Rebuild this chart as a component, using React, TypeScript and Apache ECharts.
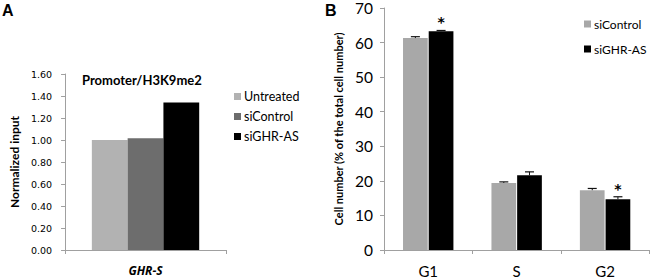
import React, { useEffect, useRef } from "react";
import * as echarts from "echarts";

// Panel A data
const catsA = ["GHR-S"];
const untreatedA = [1.0];
const siControlA = [1.015];
const siGhrA = [1.34];

// Panel B data
const catsB = ["G1", "S", "G2"];
const siControlB = [61.3, 19.4, 17.3];
const siControlErrB = [0.4, 0.3, 0.5];
const siGhrB = [63.3, 21.6, 14.7];
const siGhrErrB = [0.2, 1.0, 0.7];
const siGhrStarB = [1, 0, 1];
const siControlStarB = [0, 0, 0];

const axisGray = "#a0a0a0";
const calibri = "Lato";

function buildA(): any {
  return {
    animation: false,
    graphic: [
      {
        type: "text",
        left: 2,
        top: 2,
        style: { text: "A", font: "bold 16px 'Liberation Sans'", fill: "#000" },
      },
    ],
    title: {
      text: "Promoter/H3K9me2",
      left: 82,
      top: 73,
      padding: 0,
      textStyle: { fontFamily: calibri, fontWeight: "bold", fontSize: 13, color: "#000" },
    },
    legend: {
      orient: "vertical",
      left: 234,
      top: 90,
      itemWidth: 7,
      itemHeight: 7,
      itemGap: 7,
      icon: "rect",
      padding: 0,
      textStyle: { fontFamily: calibri, fontSize: 12.5, color: "#000", padding: [0, 0, 0, -2] },
      data: ["Untreated", "siControl", "siGHR-AS"],
    },
    grid: { left: 61, top: 74, width: 165, height: 176, containLabel: false },
    xAxis: {
      type: "category",
      data: catsA,
      axisLine: { lineStyle: { color: axisGray, width: 1 } },
      axisTick: { show: true, length: 4, lineStyle: { color: axisGray } },
      axisLabel: {
        margin: 14,
        color: "#000",
        fontFamily: "Open Sans",
        fontStyle: "italic",
        fontWeight: "bold",
        fontSize: 12,
      },
    },
    yAxis: {
      type: "value",
      min: 0,
      max: 1.6,
      interval: 0.2,
      name: "Normalized input",
      nameLocation: "middle",
      nameGap: 45,
      nameTextStyle: { fontFamily: calibri, fontWeight: "bold", fontSize: 12, color: "#000" },
      axisLine: { show: true, lineStyle: { color: axisGray, width: 1 } },
      axisTick: { show: true, length: 4, lineStyle: { color: axisGray } },
      splitLine: { show: false },
      axisLabel: {
        margin: 13,
        color: "#000",
        fontFamily: "DejaVu Sans",
        fontSize: 9.5,
        formatter: (v: number) => v.toFixed(2),
      },
    },
    series: [
      { name: "Untreated", type: "bar", data: untreatedA, barGap: "0%", barCategoryGap: "33.3%", itemStyle: { color: "#b2b2b2" } },
      { name: "siControl", type: "bar", data: siControlA, barGap: "0%", barCategoryGap: "33.3%", itemStyle: { color: "#6d6d6d" } },
      { name: "siGHR-AS", type: "bar", data: siGhrA, barGap: "0%", barCategoryGap: "33.3%", itemStyle: { color: "#000000" } },
    ],
  };
}

const CAT_GAP = 0.43;
const BAR_GAP = 0.04;

function errSeries(name: string, values: number[], errs: number[], stars: number[], dir: number) {
  return {
    type: "custom",
    name: name + "-err",
    z: 5,
    silent: true,
    encode: { x: 0, y: 1 },
    data: values.map((v, i) => [i, v, errs[i], stars[i]]),
    renderItem: (params: any, api: any) => {
      const cat = api.value(0);
      const val = api.value(1);
      const err = api.value(2);
      const star = api.value(3);
      const base = api.coord([cat, val]);
      const band = api.size([1, 0])[0];
      const bw = (band * (1 - CAT_GAP)) / (2 + BAR_GAP);
      const off = ((bw + bw * BAR_GAP) / 2) * dir;
      const x = base[0] + off;
      const top = api.coord([cat, val + err])[1];
      const children: any[] = [
        { type: "line", shape: { x1: x, y1: base[1], x2: x, y2: top }, style: { stroke: "#111", lineWidth: 1 } },
        { type: "line", shape: { x1: x - 4.5, y1: top, x2: x + 4.5, y2: top }, style: { stroke: "#111", lineWidth: 1.2 } },
      ];
      if (star) {
        children.push({
          type: "text",
          x: x,
          y: top - 1,
          style: { text: "*", font: "bold 14px 'DejaVu Sans'", fill: "#000", align: "center", verticalAlign: "bottom" },
        });
      }
      return { type: "group", children };
    },
  };
}

function buildB(): any {
  return {
    animation: false,
    graphic: [
      {
        type: "text",
        left: 0,
        top: 2,
        style: { text: "B", font: "bold 16px 'Liberation Sans'", fill: "#000" },
      },
    ],
    legend: {
      orient: "vertical",
      left: 259,
      top: 18,
      itemWidth: 7,
      itemHeight: 7,
      itemGap: 13,
      icon: "rect",
      padding: 0,
      textStyle: { fontFamily: calibri, fontSize: 12, color: "#000", padding: [0, 0, 0, -2] },
      data: ["siControl", "siGHR-AS"],
    },
    grid: { left: 43.3, top: 6.2, width: 281, height: 247.1, containLabel: false },
    xAxis: {
      type: "category",
      data: catsB,
      axisLine: { lineStyle: { color: axisGray, width: 1 } },
      axisTick: { show: true, length: 4, lineStyle: { color: axisGray } },
      axisLabel: { margin: 13, color: "#000", fontFamily: calibri, fontSize: 15 },
    },
    yAxis: {
      type: "value",
      min: 0,
      max: 70,
      interval: 10,
      name: "Cell number (% of the total cell number)",
      nameLocation: "middle",
      nameGap: 40,
      nameTextStyle: { fontFamily: calibri, fontWeight: "bold", fontSize: 11, color: "#000" },
      axisLine: { show: true, lineStyle: { color: axisGray, width: 1 } },
      axisTick: { show: true, length: 4, lineStyle: { color: axisGray } },
      splitLine: { show: false },
      axisLabel: { margin: 11, color: "#000", fontFamily: calibri, fontSize: 15.5 },
    },
    series: [
      { name: "siControl", type: "bar", data: siControlB, barGap: "4%", barCategoryGap: "43%", itemStyle: { color: "#a8a8a8" } },
      { name: "siGHR-AS", type: "bar", data: siGhrB, barGap: "4%", barCategoryGap: "43%", itemStyle: { color: "#000000" } },
      errSeries("siControl", siControlB, siControlErrB, siControlStarB, -1),
      errSeries("siGHR-AS", siGhrB, siGhrErrB, siGhrStarB, 1),
    ],
  };
}

function Chart({ build, left }: { build: () => any; left: number }) {
  const ref = useRef<HTMLDivElement>(null);
  useEffect(() => {
    if (!ref.current) return;
    const chart = echarts.init(ref.current, undefined, { renderer: "svg" });
    chart.setOption(build());
    return () => chart.dispose();
  }, [build]);
  return (
    <div
      ref={ref}
      style={{ position: "absolute", left, top: 0, width: 325, height: 278 }}
    />
  );
}

export default function App() {
  return (
    <div style={{ position: "fixed", left: 0, top: 0, width: 650, height: 278, background: "#fff" }}>
      <Chart build={buildA} left={0} />
      <Chart build={buildB} left={325} />
    </div>
  );
}
